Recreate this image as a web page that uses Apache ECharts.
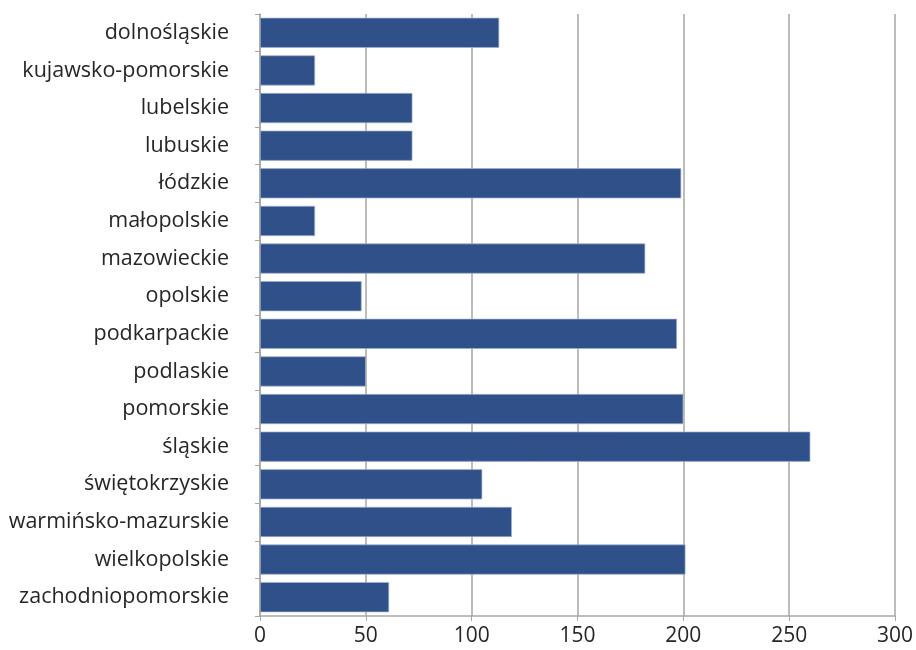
<!DOCTYPE html>
<html><head><meta charset="utf-8">
<script src="https://cdn.jsdelivr.net/npm/echarts@6/dist/echarts.min.js"></script>
<style>html,body{margin:0;padding:0;background:#fff}#c{width:916px;height:650px}</style>
</head><body><div id="c"></div>
<script>
const categories = ["dolnośląskie","kujawsko-pomorskie","lubelskie","lubuskie","łódzkie","małopolskie","mazowieckie","opolskie","podkarpackie","podlaskie","pomorskie","śląskie","świętokrzyskie","warmińsko-mazurskie","wielkopolskie","zachodniopomorskie"];
const values = [113,26,72,72,199,26,182,48,197,50,200,260,105,119,201,61];
const xTicks = [0,50,100,150,200,250,300];

const chart = echarts.init(document.getElementById('c'), null, {renderer:'canvas'});
chart.setOption({
  animation:false,
  grid:{left:260,right:21,top:14,bottom:34,containLabel:false},
  xAxis:{type:'value',min:xTicks[0],max:xTicks[xTicks.length-1],interval:50,
    axisLine:{show:true,lineStyle:{color:'#a6a6a6',width:1.5}},
    axisTick:{show:true,length:5,lineStyle:{color:'#a6a6a6'}},
    axisLabel:{color:'#262626',fontFamily:'Open Sans',fontSize:21,margin:10},
    splitLine:{show:true,lineStyle:{color:'#a6a6a6',width:1.5}}},
  yAxis:{type:'category',data:categories,inverse:true,
    axisLine:{show:true,lineStyle:{color:'#a6a6a6',width:1.5}},
    axisTick:{show:true,length:5,lineStyle:{color:'#a6a6a6'}},
    axisLabel:{color:'#262626',fontFamily:'Open Sans',fontSize:21.5,margin:31,padding:[0,0,5,0]}},
  series:[{type:'bar',data:values,barCategoryGap:'20%',
    itemStyle:{color:'#2f5088',borderColor:'#9fb0cf',borderWidth:0.7}}]
});
</script></body></html>
